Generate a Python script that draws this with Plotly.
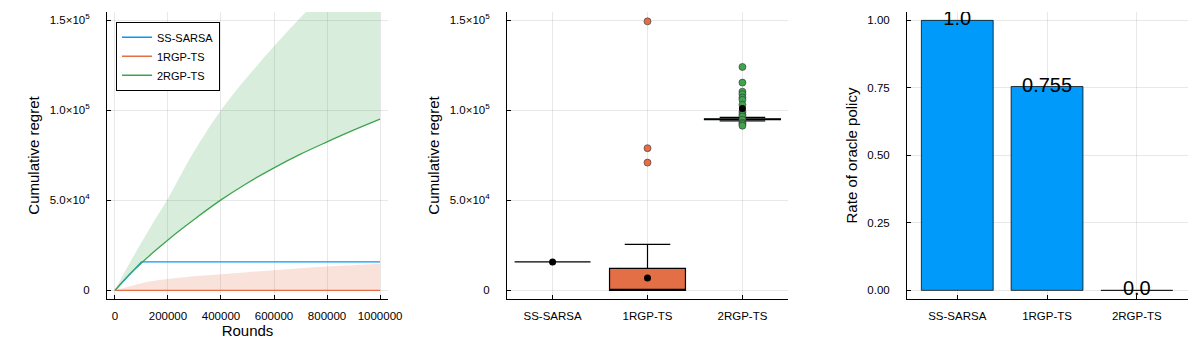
import plotly.graph_objects as go
from plotly.subplots import make_subplots

# colours used by the three methods
BLUE = "#009AFA"
ORANGE = "#E26F46"
GREEN = "#3EA44E"

methods = ["SS-SARSA", "1RGP-TS", "2RGP-TS"]

# ---- panel 1: cumulative regret over rounds
rounds = [0, 50000, 100000, 150000, 200000, 250000, 300000, 400000, 500000,
          600000, 700000, 800000, 900000, 1000000]
sarsa_mean = [0, 8000, 15800, 15800, 15800, 15800, 15800, 15800, 15800,
              15800, 15800, 15800, 15800, 15800]
rgp1_mean = [0, 0, 0, 0, 0, 0, 0, 0, 0, 0, 0, 0, 0, 0]
rgp1_upper = [0, 2000, 4000, 5300, 6300, 7100, 7800, 8900, 10100,
              11200, 12300, 13300, 14000, 14700]
rgp2_mean = [0, 8200, 15200, 21800, 28000, 33900, 39500, 50200, 59600,
             68000, 75600, 82400, 88900, 95000]
rgp2_upper = [0, 13800, 26500, 39000, 51000, 64500, 77500, 100000, 118500,
              135500, 151500, 166000, 181000, 195000]

# ---- panel 2: box plot summaries of final regret
box_q1 = [15800, 0, 94800]
box_median = [15800, 0, 95000]
box_q3 = [15800, 12200, 95200]
box_low = [15800, 0, 94000]
box_high = [15800, 25500, 96000]
box_mean = [15800, 6800, 101000]
rgp1_outliers = [149300, 78900, 70900]
rgp2_outliers = [124000, 115300, 110300, 108900, 107000, 105800, 103000,
                 99000, 97500, 96500, 94700, 93000, 92300, 91400]

# ---- panel 3: rate of oracle policy
oracle_rate = [1.0, 0.755, 0.0]
oracle_text = ["1.0", "0.755", "0.0"]

regret_ticks = [0, 50000, 100000, 150000]
regret_ticktext = ["0", "5.0×10<sup>4</sup>", "1.0×10<sup>5</sup>", "1.5×10<sup>5</sup>"]
round_ticks = [0, 200000, 400000, 600000, 800000, 1000000]
rate_ticks = [0, 0.25, 0.5, 0.75, 1.0]
rate_ticktext = ["0.00", "0.25", "0.50", "0.75", "1.00"]

FONT = "Liberation Sans"

fig = make_subplots(rows=1, cols=3)

# panel 1 lines and ribbons
fig.add_trace(go.Scatter(x=rounds, y=sarsa_mean, mode="lines", name="SS-SARSA",
                         line=dict(color=BLUE, width=1.3)), row=1, col=1)
fig.add_trace(go.Scatter(x=rounds, y=rgp1_mean, mode="lines", line=dict(width=0),
                         showlegend=False, hoverinfo="skip"), row=1, col=1)
fig.add_trace(go.Scatter(x=rounds, y=rgp1_upper, mode="lines", line=dict(width=0, shape="spline"),
                         fill="tonexty", fillcolor="rgba(226,111,70,0.2)",
                         showlegend=False, hoverinfo="skip"), row=1, col=1)
fig.add_trace(go.Scatter(x=rounds, y=rgp1_mean, mode="lines", name="1RGP-TS",
                         line=dict(color=ORANGE, width=1.3)), row=1, col=1)
fig.add_trace(go.Scatter(x=rounds, y=rgp2_mean, mode="lines", line=dict(width=0, shape="spline"),
                         showlegend=False, hoverinfo="skip"), row=1, col=1)
fig.add_trace(go.Scatter(x=rounds, y=rgp2_upper, mode="lines", line=dict(width=0, shape="spline"),
                         fill="tonexty", fillcolor="rgba(62,164,78,0.2)",
                         showlegend=False, hoverinfo="skip"), row=1, col=1)
fig.add_trace(go.Scatter(x=rounds, y=rgp2_mean, mode="lines", name="2RGP-TS",
                         line=dict(color=GREEN, width=1.3, shape="spline")), row=1, col=1)

# panel 2 boxes
box_colors = [BLUE, ORANGE, GREEN]
for i in range(3):
    fig.add_trace(go.Box(x=[i], q1=[box_q1[i]], median=[box_median[i]], q3=[box_q3[i]],
                         lowerfence=[box_low[i]], upperfence=[box_high[i]],
                         width=0.8, whiskerwidth=0.6, fillcolor=box_colors[i],
                         line=dict(color="black", width=1.2), boxpoints=False,
                         showlegend=False), row=1, col=2)
fig.add_trace(go.Scatter(x=[1] * len(rgp1_outliers), y=rgp1_outliers, mode="markers",
                         marker=dict(color=ORANGE, size=7, line=dict(color="#333", width=0.6)),
                         showlegend=False), row=1, col=2)
fig.add_trace(go.Scatter(x=[2] * len(rgp2_outliers), y=rgp2_outliers, mode="markers",
                         marker=dict(color=GREEN, size=7, line=dict(color="#333", width=0.6)),
                         showlegend=False), row=1, col=2)
fig.add_trace(go.Scatter(x=[0, 1, 2], y=box_mean, mode="markers",
                         marker=dict(color="black", size=7, line=dict(color="black", width=0)),
                         showlegend=False), row=1, col=2)

# panel 3 bars
fig.add_trace(go.Bar(x=[0, 1, 2], y=oracle_rate, width=0.8, marker_color=BLUE,
                     marker_line=dict(color="rgba(0,0,0,0.75)", width=1),
                     showlegend=False), row=1, col=3)
fig.add_trace(go.Scatter(x=[0, 1, 2], y=oracle_rate, mode="text", text=oracle_text,
                         textposition="middle center",
                         textfont=dict(family=FONT, size=20, color="black"),
                         showlegend=False), row=1, col=3)

axis_style = dict(showline=True, linecolor="black", linewidth=1, mirror=False,
                  ticks="inside", ticklen=4, tickcolor="black", automargin=False,
                  showgrid=True, gridcolor="rgba(0,0,0,0.09)", gridwidth=0.6,
                  zeroline=False, tickfont=dict(family=FONT, size=11.5, color="black"))

fig.update_xaxes(**axis_style)
fig.update_yaxes(**axis_style)

fig.update_xaxes(domain=[107 / 1200, 388 / 1200], range=[-30000, 1030000],
                 tickvals=round_ticks, ticktext=[str(v) for v in round_ticks],
                 ticklabelstandoff=6,
                 title=dict(text="Rounds", font=dict(family=FONT, size=15), standoff=3),
                 row=1, col=1)
fig.update_xaxes(domain=[507 / 1200, 788 / 1200], range=[-0.48, 2.48],
                 tickvals=[0, 1, 2], ticktext=methods, ticklabelstandoff=6, row=1, col=2)
fig.update_xaxes(domain=[907 / 1200, 1188 / 1200], range=[-0.56, 2.57],
                 tickvals=[0, 1, 2], ticktext=methods, ticklabelstandoff=6, row=1, col=3)

for c in (1, 2):
    fig.update_yaxes(range=[-4800, 154500], tickvals=regret_ticks, ticktext=regret_ticktext,
                     ticklabelstandoff=14,
                     title=dict(text="Cumulative regret", font=dict(family=FONT, size=15),
                                standoff=6),
                     row=1, col=c)
fig.update_yaxes(range=[-0.032, 1.031], tickvals=rate_ticks, ticktext=rate_ticktext,
                 ticklabelstandoff=14,
                 title=dict(text="Rate of oracle policy", font=dict(family=FONT, size=15),
                            standoff=6),
                 row=1, col=3)

fig.update_layout(
    width=1200, height=350,
    margin=dict(l=0, r=0, t=12, b=51, autoexpand=False),
    plot_bgcolor="white", paper_bgcolor="white",
    font=dict(family=FONT, color="black"),
    legend=dict(x=116 / 1200, y=0.966, xanchor="left", yanchor="top",
                bgcolor="white", bordercolor="black", borderwidth=1,
                font=dict(family=FONT, size=11), itemwidth=30,
                traceorder="normal", tracegroupgap=0),
)

# the page's default body margin would push the figure 8px down and right
fig.write_html("out.html", config={"displayModeBar": False},
               post_script="document.body.style.margin='0';")
